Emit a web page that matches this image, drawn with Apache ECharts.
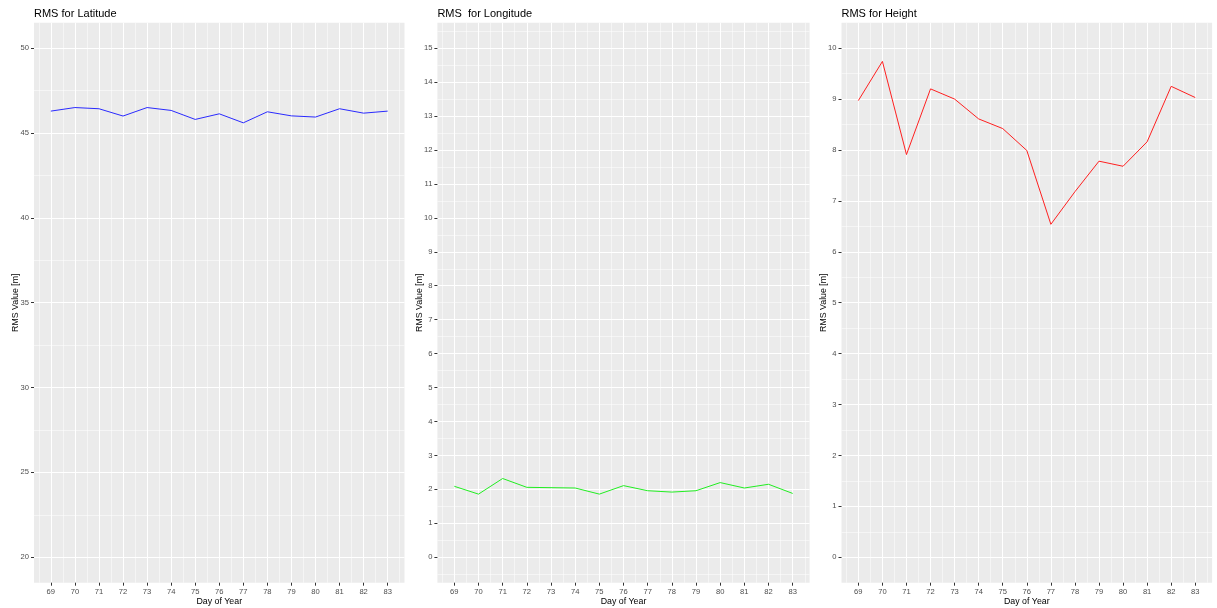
<!DOCTYPE html>
<html>
<head>
<meta charset="utf-8">
<script src="https://cdn.jsdelivr.net/npm/echarts@6/dist/echarts.min.js"></script>
<style>
html,body{margin:0;padding:0;background:#fff;}
#main{width:1217px;height:608px;}
</style>
</head>
<body>
<div id="main"></div>
<script>
const days = [69,70,71,72,73,74,75,76,77,78,79,80,81,82,83];
const latitude = [46.29,46.50,46.43,46.00,46.50,46.33,45.80,46.13,45.60,46.25,46.01,45.94,46.43,46.17,46.29];
const longitude = [2.09,1.86,2.32,2.06,2.05,2.04,1.86,2.11,1.96,1.92,1.96,2.20,2.04,2.15,1.88];
const height = [8.97,9.74,7.91,9.20,9.00,8.61,8.42,7.99,6.54,7.18,7.78,7.68,8.16,9.25,9.03];
const titles = ['RMS for Latitude', 'RMS  for Longitude', 'RMS for Height'];
const yTicksLat = [20,25,30,35,40,45,50];
const yTicksLon = [0,1,2,3,4,5,6,7,8,9,10,11,12,13,14,15];
const yTicksHei = [0,1,2,3,4,5,6,7,8,9,10];
const colors = ['#2a2aff', '#22ee22', '#ff2020'];

const FONT = 'Liberation Sans, Arial, sans-serif';
const chart = echarts.init(document.getElementById('main'), null, {renderer:'canvas'});

const panels = [
  {left:34, right:1217-404.5, data:latitude, yTicks:yTicksLat, ymin:18.5, ymax:51.5},
  {left:437.4, right:1217-809.6, data:longitude, yTicks:yTicksLon, ymin:-0.75, ymax:15.75},
  {left:841.5, right:1217-1212.1, data:height, yTicks:yTicksHei, ymin:-0.5, ymax:10.5}
];

function midpoints(arr){
  const out=[];
  out.push(arr[0] - (arr[1]-arr[0])/2);
  for(let i=0;i<arr.length-1;i++) out.push((arr[i]+arr[i+1])/2);
  out.push(arr[arr.length-1] + (arr[1]-arr[0])/2);
  return out;
}

const grid=[], xAxis=[], yAxis=[], series=[], title=[];
panels.forEach((p,i)=>{
  grid.push({left:p.left, right:p.right, top:22.7, bottom:608-582.7, show:true,
    backgroundColor:'#EBEBEB', borderWidth:0, containLabel:false, outerBoundsMode:'none'});
  title.push({text:titles[i], left:p.left, top:8.5, padding:0,
    textStyle:{fontFamily:FONT, fontSize:11, fontWeight:'normal', color:'#000'}});
  const xmin = days[0] - 0.05*(days[days.length-1]-days[0]);
  const xmax = days[days.length-1] + 0.05*(days[days.length-1]-days[0]);
  // major x
  xAxis.push({type:'value', gridIndex:i, min:xmin, max:xmax, position:'bottom',
    name:'Day of Year', nameLocation:'middle', nameGap:14.5, nameMoveOverlap:false,
    nameTextStyle:{fontFamily:FONT, fontSize:8.8, color:'#000'},
    axisLine:{show:false, onZero:false},
    axisTick:{show:true, length:3, customValues:days, lineStyle:{color:'#333', width:1}},
    axisLabel:{show:true, customValues:days, margin:5, fontFamily:FONT, fontSize:7.6, color:'#4d4d4d'},
    splitLine:{show:true, lineStyle:{color:'#fff', width:1}},
    z:2
  });
  // minor x
  xAxis.push({type:'value', gridIndex:i, min:xmin, max:xmax, position:'bottom',
    axisLine:{show:false, onZero:false}, axisLabel:{show:false},
    axisTick:{show:false, customValues:midpoints(days)},
    splitLine:{show:true, lineStyle:{color:'#fff', width:0.5}},
    z:1
  });
  const yMinor = midpoints(p.yTicks).filter(v=>v>p.ymin && v<p.ymax);
  yAxis.push({type:'value', gridIndex:i, min:p.ymin, max:p.ymax, position:'left',
    name:'RMS Value [m]', nameLocation:'middle', nameGap:13.5, nameRotate:90, nameMoveOverlap:false,
    nameTextStyle:{fontFamily:FONT, fontSize:8.8, color:'#000'},
    axisLine:{show:false, onZero:false},
    axisTick:{show:true, length:3, customValues:p.yTicks, lineStyle:{color:'#333', width:1}},
    axisLabel:{show:true, customValues:p.yTicks, margin:5, fontFamily:FONT, fontSize:7.6, color:'#4d4d4d'},
    splitLine:{show:true, lineStyle:{color:'#fff', width:1}},
    z:2
  });
  yAxis.push({type:'value', gridIndex:i, min:p.ymin, max:p.ymax, position:'left',
    axisLine:{show:false, onZero:false}, axisLabel:{show:false},
    axisTick:{show:false, customValues:yMinor},
    splitLine:{show:true, lineStyle:{color:'#fff', width:0.5}},
    z:1
  });
  series.push({type:'line', xAxisIndex:2*i, yAxisIndex:2*i,
    data: days.map((d,k)=>[d, p.data[k]]),
    showSymbol:false, symbol:'none', animation:false,
    lineStyle:{color:colors[i], width:1}, itemStyle:{color:colors[i]}, z:5});
});

chart.setOption({animation:false, backgroundColor:'#fff', title, grid, xAxis, yAxis, series});
</script>
</body>
</html>
